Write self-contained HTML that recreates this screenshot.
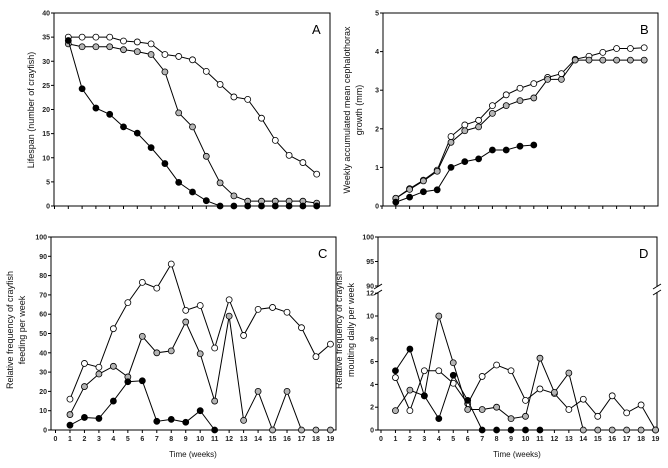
<!DOCTYPE html>
<html><head><meta charset="utf-8"><style>
html,body{margin:0;padding:0;background:#fff;}
svg{display:block;font-family:"Liberation Sans",Arial,sans-serif;}
</style></head><body>
<svg id="fig" width="668" height="468" viewBox="0 0 668 468" xmlns="http://www.w3.org/2000/svg"></svg>
<script>
const weeks = [1,2,3,4,5,6,7,8,9,10,11,12,13,14,15,16,17,18,19];
const aWhite = [35,35,35,35,34.2,34,33.6,31.4,31,30.3,27.9,25.2,22.6,22.1,18.2,13.6,10.5,9,6.6];
const aGray  = [33.6,33,33,33,32.4,32,31.4,27.8,19.3,16.4,10.3,4.8,2.1,1,1,1,1,1,0.6];
const aBlack = [34.3,24.3,20.3,19,16.4,15.1,12.1,8.8,4.9,2.9,1.1,0,0,0,0,0,0,0,0];
const bWhite = [0.2,0.45,0.67,0.93,1.8,2.1,2.22,2.6,2.88,3.05,3.17,3.33,3.43,3.8,3.88,3.98,4.08,4.08,4.1];
const bGray  = [0.2,0.43,0.65,0.9,1.65,1.95,2.05,2.4,2.6,2.73,2.8,3.28,3.28,3.78,3.78,3.78,3.78,3.78,3.78];
const bBlack = [0.1,0.23,0.37,0.42,1.0,1.15,1.22,1.45,1.45,1.55,1.58];
const cWhite = [16,34.5,32.5,52.5,66,76.5,73.5,86,62,64.5,42.5,67.5,49,62.5,63.5,61,53,38,44.5];
const cGray  = [8,22.5,29,33,27.5,48.5,40,41,56,39.5,15,59,5,20,0,20,0,0,0];
const cBlack = [2.5,6.5,6,15,25,25.5,4.5,5.5,4,10,0];
const dWhite = [4.6,1.7,5.2,5.2,4.1,2.3,4.7,5.7,5.2,2.6,3.6,3.2,1.8,2.7,1.2,3.0,1.5,2.2,0];
const dGray  = [1.7,3.5,3.0,10,5.9,1.8,1.8,2.0,1.0,1.2,6.3,3.3,5.0,0,0,0,0,0,0];
const dBlack = [5.2,7.1,3.0,1.0,4.8,2.6,0,0,0,0,0];
const aTicks = [0,5,10,15,20,25,30,35,40];
const bTicks = [0,1,2,3,4,5];
const cTicks = [0,10,20,30,40,50,60,70,80,90,100];
const dTicksLow = [0,2,4,6,8,10,12];
const dTicksHigh = [90,95,100];
const xTickLabels = [0,1,2,3,4,5,6,7,8,9,10,11,12,13,14,15,16,17,18,19];

const svg = document.getElementById('fig');
const NS = 'http://www.w3.org/2000/svg';
function mk(tag, attrs, parent){const e=document.createElementNS(NS,tag);for(const k in attrs)e.setAttribute(k,attrs[k]);(parent||svg).appendChild(e);return e;}
function txt(s, attrs, name){const t=mk('text',attrs);t.textContent=s;


return t;}

function panel(p){
  const g = mk('g',{});
  
  
  const xs = v => p.x0 + v*p.xs;
  const ys = p.yfn;
  const fr = mk('rect',{x:p.L,y:p.T,width:p.R-p.L,height:p.B-p.T,fill:'none',stroke:'#000','stroke-width':1},g);
  
  
  p.yticks.forEach(v=>{
    const y = ys(v);
    mk('line',{x1:p.L-3,x2:p.L,y1:y,y2:y,stroke:'#000'},g);
    const t = txt(String(v),{x:p.L-4,y:y+2.5,'font-size':7,'text-anchor':'end','font-weight':'bold',fill:'#222'},'y-tick-label');
    g.appendChild(t);
  });
  xTickLabels.forEach(v=>{
    const x = xs(v);
    if (x > p.R+1) return;
    mk('line',{x1:x,x2:x,y1:p.B,y2:p.B+3,stroke:'#000'},g);
    if (p.xlabels){
      const t = txt(String(v),{x:x,y:p.B+11,'font-size':7,'text-anchor':'middle','font-weight':'bold',fill:'#222'},'x-tick-label');
      g.appendChild(t);
    }
  });
  const styles = [['white',p.white],['gray',p.gray],['black',p.black]];
  const fills = {white:'#fff',gray:'#b4b4b4',black:'#000'};
  styles.forEach(([nm,arr])=>{
    const pts = arr.map((v,i)=>[xs(weeks[i]),ys(v)]);
    const pl = mk('polyline',{points:pts.map(q=>q.join(',')).join(' '),fill:'none',stroke:'#000','stroke-width':1},g);
    
    
    pts.forEach(q=>{
      const c = mk('circle',{cx:q[0],cy:q[1],r:3,fill:fills[nm],stroke:'#000','stroke-width':0.8},g);
      
      
    });
  });
  const lt = txt(p.id,{x:p.R-18,y:p.T+21,'font-size':13,fill:'#000'},'panel-letter-'+p.id);
  g.appendChild(lt);
  p.ylab.forEach((s,i)=>{
    const x = p.ylx + i*12;
    const t = txt(s,{x:x,y:p.ylc,'font-size':9,'text-anchor':'middle',transform:`rotate(-90 ${x} ${p.ylc})`,fill:'#111'},'y-axis-title');
    g.appendChild(t);
  });
  if (p.xlabels){
    const t = txt('Time (weeks)',{x:p.xlc,y:457,'font-size':8,'text-anchor':'middle',fill:'#111'},'x-axis-title');
    g.appendChild(t);
  }
}

panel({id:'A',L:54,R:330,T:13,B:206,x0:54.5,xs:13.8,yfn:v=>206-v*(193/40),yticks:aTicks,
  white:aWhite,gray:aGray,black:aBlack,ylab:['Lifespan (number of crayfish)'],ylx:34,ylc:110,xlabels:false});
panel({id:'B',L:383,R:658,T:13,B:206,x0:382,xs:13.8,yfn:v=>206-v*(193/5),yticks:bTicks,
  white:bWhite,gray:bGray,black:bBlack,ylab:['Weekly accumulated mean cephalothorax','growth (mm)'],ylx:350,ylc:110,xlabels:false});
panel({id:'C',L:51,R:336,T:237,B:430,x0:55.5,xs:14.47,yfn:v=>430-v*1.93,yticks:cTicks,
  white:cWhite,gray:cGray,black:cBlack,ylab:['Relative frequency of crayfish','feeding per week'],ylx:13,ylc:330,xlabels:true,xlc:193});
panel({id:'D',L:378,R:657,T:237,B:430,x0:381,xs:14.45,
  yfn:v=> v>=90 ? 286-(v-90)*4.9 : 430-v*11.4,
  yticks:dTicksLow.concat(dTicksHigh),
  white:dWhite,gray:dGray,black:dBlack,ylab:['Relative frequency of crayfish','moulting daily per week'],ylx:342,ylc:330,xlabels:true,xlc:517});
[[378],[657]].forEach(([x])=>{
  mk('rect',{x:x-4,y:287,width:8,height:5,fill:'#fff'});
  mk('line',{x1:x-4,y1:289,x2:x+4,y2:284,stroke:'#000'});
  mk('line',{x1:x-4,y1:295,x2:x+4,y2:290,stroke:'#000'});
});
</script>
</body></html>
